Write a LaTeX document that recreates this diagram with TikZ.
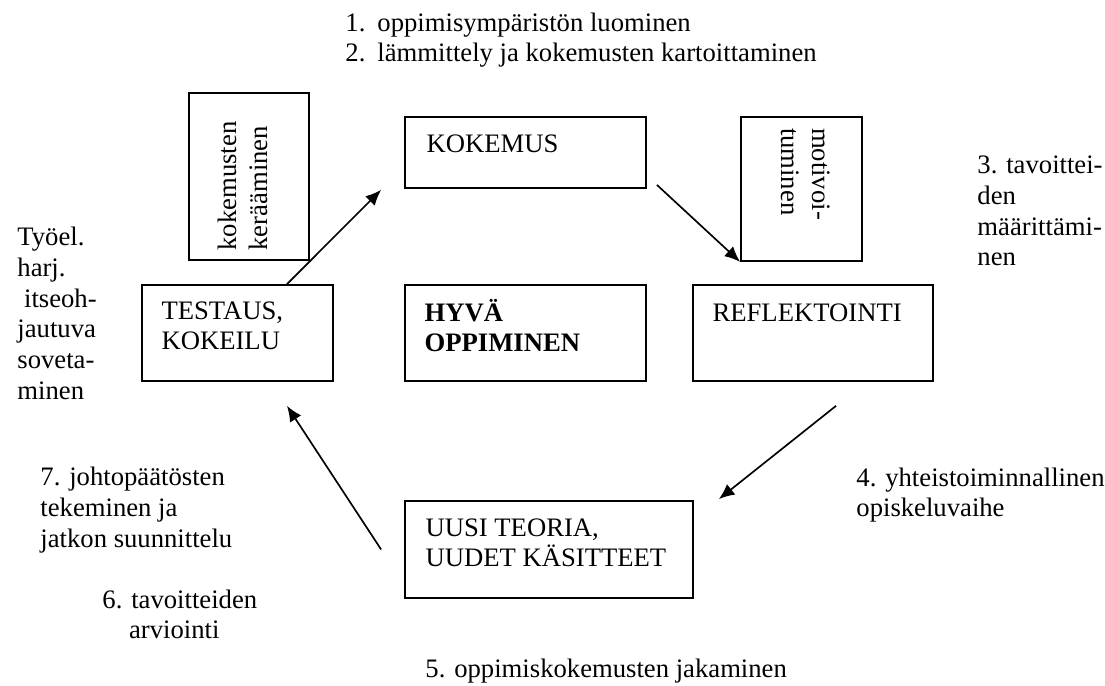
\documentclass[tikz,border=0pt]{standalone}
\usepackage{fontspec}
\setmainfont{Liberation Serif}
\usetikzlibrary{positioning,arrows.meta}

\begin{document}
\begin{tikzpicture}[x=0.45pt,y=-0.45pt,>={Latex[length=7pt,width=6pt]},font=\fontsize{12pt}{13.8pt}\selectfont]

	\tikzstyle{box}=[draw,line width=0.8pt,inner sep=0pt]
	\tikzstyle{txt}=[inner sep=0pt,align=left,anchor=base west]
	\tikzstyle{arr}=[->,line width=0.75pt]

	\useasboundingbox (0,0) rectangle (1105,686);

	\node[box,minimum width=120*0.45pt,minimum height=167*0.45pt] (ker) at (249,176.5) {};
	\node[box,minimum width=241*0.45pt,minimum height=71*0.45pt] (kok) at (525.5,152.5) {};
	\node[box,minimum width=121*0.45pt,minimum height=144*0.45pt] (mot) at (801.5,189) {};
	\node[box,minimum width=191*0.45pt,minimum height=96*0.45pt] (tes) at (237.5,333) {};
	\node[box,minimum width=241*0.45pt,minimum height=96*0.45pt] (hyv) at (525.5,333) {};
	\node[box,minimum width=240*0.45pt,minimum height=96*0.45pt] (ref) at (813,333) {};
	\node[box,minimum width=288*0.45pt,minimum height=97*0.45pt] (uus) at (549,549.5) {};

	\node[txt] (kokt) at ([shift={(22,36)}]kok.north west) {KOKEMUS};
	\node[txt] (test) at ([shift={(20,65.7)}]tes.north west) {TESTAUS,\\KOKEILU};
	\node[txt,font=\fontsize{12pt}{13.8pt}\selectfont\bfseries] (hyvt) at ([shift={(20,67.7)}]hyv.north west) {HYVÄ\\OPPIMINEN};
	\node[txt] (reft) at ([shift={(20,37)}]ref.north west) {REFLEKTOINTI};
	\node[txt] (uust) at ([shift={(21,66.7)}]uus.north west) {UUSI TEORIA,\\UUDET KÄSITTEET};
	\node[inner sep=0pt,align=left,rotate=90] (kert) at (243,186) {kokemusten\\kerääminen};
	\node[inner sep=0pt,align=left,rotate=-90] (mott) at (806,174) {motivoi-\\tuminen};

	\node[txt] (v12) at (345,61.7) {\makebox[14.4pt][l]{1.}oppimisympäristön luominen\\\makebox[14.4pt][l]{2.}lämmittely ja kokemusten kartoittaminen};
	\node[txt] (v3) at (977,266) {3. tavoittei-\\den\\määrittämi-\\nen};
	\node[txt] (v4) at (856,516.7) {4. yhteistoiminnallinen\\opiskeluvaihe};
	\node[txt] (v5) at (425,678) {5. oppimiskokemusten jakaminen};
	\node[txt] (v6) at (102,638.7) {6. tavoitteiden\\\hspace*{12pt}arviointi};
	\node[txt] (v7) at (40,547.3) {7. johtopäätösten\\tekeminen ja\\jatkon suunnittelu};
	\node[txt] (vty) at (17,399.3) {Työel.\\harj.\\\hspace*{3pt}itseoh-\\jautuva\\soveta-\\minen};

	\draw[arr] ([shift={(49.5,0)}]tes.north) -- ([shift={(-23,1)}]kok.south west);
	\draw[arr] ([shift={(10,-4)}]kok.south east) -- (mot.south west);
	\draw[arr] ([shift={(23,24)}]ref.south) -- ([shift={(25,-1)}]uus.north east);
	\draw[arr] ([shift={(-23,0)}]uus.west) -- ([shift={(49.5,24)}]tes.south);
\end{tikzpicture}
\end{document}
